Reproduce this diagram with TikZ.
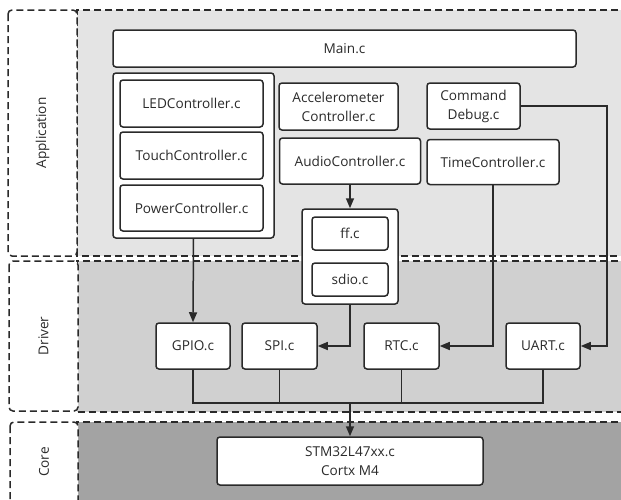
\documentclass[tikz,border=0pt]{standalone}
\usepackage{fontspec}
\setmainfont{Open Sans}
\usetikzlibrary{arrows.meta,calc}
\definecolor{ink}{HTML}{2A2A2A}
\definecolor{appgray}{HTML}{E4E4E4}
\definecolor{drvgray}{HTML}{D0D0D0}
\definecolor{coregray}{HTML}{A3A3A3}
\tikzset{
  box/.style={draw=ink, line width=1.5pt, rounded corners=3pt, fill=white, text=ink,
    inner sep=0pt, align=center, font=\fontsize{13.6}{19}\selectfont},
  layer/.style={draw=ink, line width=1.5pt, dash pattern=on 7pt off 4pt},
  lbl/.style={draw=ink, line width=1.5pt, dash pattern=on 7pt off 4pt, rounded corners=4pt, fill=white},
  lbltext/.style={text=ink, rotate=90, font=\fontsize{13.6}{16}\selectfont},
  conn/.style={draw=ink, line width=1.5pt},
  arr/.style={conn, -{Triangle[length=10pt,width=8pt]}}
}
\begin{document}
\begin{tikzpicture}[x=1pt,y=-1pt]
\useasboundingbox (0,0) rectangle (621,499);
% layers
\fill[appgray] (77,10) rectangle (640,256);
\draw[layer] (640,10) -- (77,10) -- (77,256) -- (640,256);
\fill[drvgray] (77,261) rectangle (640,412);
\draw[layer] (640,261) -- (77,261) -- (77,412) -- (640,412);
\fill[coregray] (77,422) rectangle (640,520);
\draw[layer] (640,422) -- (77,422) -- (77,520);
% layer label boxes
\draw[lbl] (8,10) rectangle (77,256);
\node[lbltext] (lapp) at (42.5,133) {Application};
\draw[lbl] (9,261) rectangle (78,411);
\node[lbltext] (ldrv) at (43.5,336) {Driver};
\draw[lbl] (10,422) rectangle (78,520);
\node[lbltext] (lcore) at (44,462) {Core};
% application nodes
\node[box, minimum width=463pt, minimum height=37pt] (main) at (344.5,48.5) {Main.c};
\node[box, minimum width=161pt, minimum height=165pt] (group) at (193.5,155.5) {};
\node[box, minimum width=143pt, minimum height=47pt] (led) at (191.5,103.5) {LEDController.c};
\node[box, minimum width=143pt, minimum height=47pt] (touch) at (191.5,155.5) {TouchController.c};
\node[box, minimum width=143pt, minimum height=46pt] (power) at (191.5,208) {PowerController.c};
\node[box, minimum width=119pt, minimum height=47pt] (accel) at (338.5,106.5) {Accelerometer\\Controller.c};
\node[box, minimum width=141pt, minimum height=46pt] (audio) at (350,161) {AudioController.c};
\node[box, minimum width=93pt, minimum height=46pt] (cmd) at (473.5,106) {Command\\Debug.c};
\node[box, minimum width=132pt, minimum height=45pt] (time) at (493,162) {TimeController.c};
\node[box, minimum width=96pt, minimum height=95pt] (ffc) at (350,256.5) {};
\node[box, minimum width=76pt, minimum height=33pt] (ff) at (350,233.5) {ff.c};
\node[box, minimum width=76pt, minimum height=33pt] (sdio) at (350,279.5) {sdio.c};
% driver nodes
\node[box, minimum width=74pt, minimum height=46pt] (gpio) at (193,346) {GPIO.c};
\node[box, minimum width=75pt, minimum height=46pt] (spi) at (279.5,346) {SPI.c};
\node[box, minimum width=75pt, minimum height=46pt] (rtc) at (401.5,346) {RTC.c};
\node[box, minimum width=74pt, minimum height=46pt] (uart) at (543,346) {UART.c};
% core
\node[box, minimum width=266pt, minimum height=48pt] (stm) at (350,461) {STM32L47xx.c\\Cortx M4};
% connectors
\coordinate (cr) at (607,346);
\coordinate (bus) at (350,403);
\draw[arr] (group.south) -- (gpio.north);
\draw[arr] (audio.south) -- (ffc.north);
\draw[arr] (ffc.south) |- (spi.east);
\draw[arr] (time.south) |- (rtc.east);
\draw[arr] (cmd.east) -| (cr) -- (uart.east);
\draw[conn] (gpio.south) |- (bus) -| (uart.south);
\draw[conn] (spi.south) -- (spi.south |- bus);
\draw[conn] (rtc.south) -- (rtc.south |- bus);
\draw[arr] (bus) -- (stm.north);
\end{tikzpicture}
\end{document}
